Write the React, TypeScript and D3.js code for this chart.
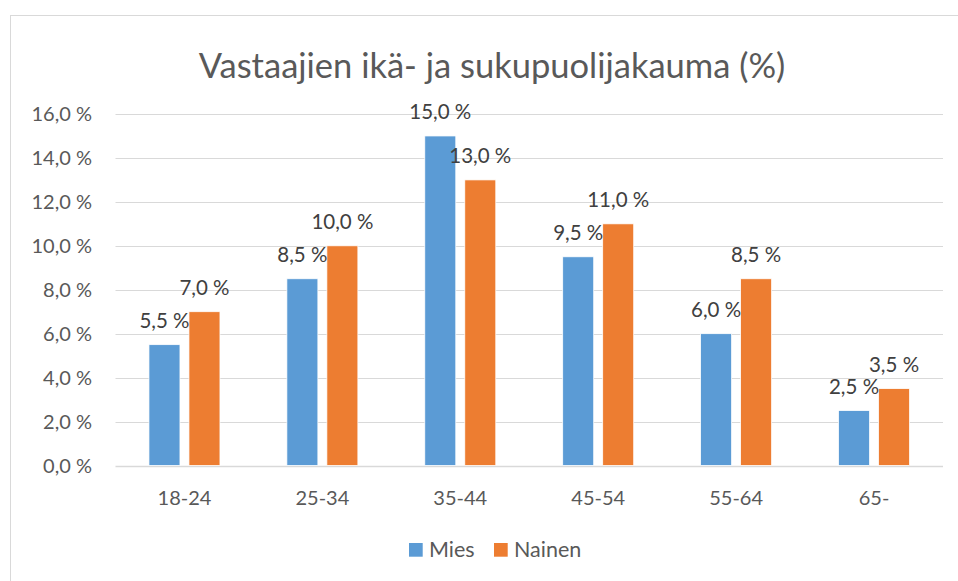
import React, { useEffect, useRef } from "react";
import * as d3 from "d3";

const categories = ["18-24", "25-34", "35-44", "45-54", "55-64", "65-"];
const seriesNames = ["Mies", "Nainen"];
const miesValues = [5.5, 8.5, 15.0, 9.5, 6.0, 2.5];
const nainenValues = [7.0, 10.0, 13.0, 11.0, 8.5, 3.5];
const yTickValues = [0, 2, 4, 6, 8, 10, 12, 14, 16];
const colors = ["#5B9BD5", "#ED7D31"];

const title = "Vastaajien ikä- ja sukupuolijakauma (%)";
const fmt = (v: number) => v.toFixed(1).replace(".", ",") + " %";

const App = () => {
  const svgRef = useRef<SVGSVGElement>(null);

  useEffect(() => {
    document.body.style.margin = "0";
    const svg = d3.select(svgRef.current);
    svg.selectAll("*").remove();

    const font = "Lato, 'Open Sans', sans-serif";
    const textColor = "#595959";
    const gridColor = "#D9D9D9";

    // chart frame
    svg
      .append("rect")
      .attr("x", 10.5)
      .attr("y", 15.5)
      .attr("width", 970)
      .attr("height", 600)
      .attr("fill", "#fff")
      .attr("stroke", gridColor);

    const x0 = d3.scaleBand().domain(categories).range([115.5, 943]);
    const x1 = d3
      .scaleBand()
      .domain(seriesNames)
      .range([-40, 40])
      .paddingInner(0.225)
      .paddingOuter(0.1125);
    const y = d3.scaleLinear().domain([0, 16]).range([465.5, 114]);
    const color = d3.scaleOrdinal<string>().domain(seriesNames).range(colors);

    // title
    svg
      .append("text")
      .attr("x", 492)
      .attr("y", 78)
      .attr("text-anchor", "middle")
      .style("font-family", font)
      .style("font-size", "34.5px")
      .attr("fill", textColor)
      .text(title);

    // grid
    svg
      .append("g")
      .selectAll("line")
      .data(yTickValues)
      .join("line")
      .attr("x1", 115.5)
      .attr("x2", 943)
      .attr("y1", (d) => Math.round(y(d)) + 0.5)
      .attr("y2", (d) => Math.round(y(d)) + 0.5)
      .attr("stroke", gridColor)
      .attr("stroke-width", (d) => (d === 0 ? 1.5 : 1.2));

    // y tick labels
    svg
      .append("g")
      .selectAll("text")
      .data(yTickValues)
      .join("text")
      .attr("x", 92)
      .attr("y", (d) => y(d))
      .attr("dy", "0.36em")
      .attr("text-anchor", "end")
      .style("font-family", font)
      .style("font-size", "20px")
      .attr("fill", textColor)
      .text((d) => fmt(d));

    const rows = categories.map((c, i) => ({
      category: c,
      values: [
        { key: seriesNames[0], value: miesValues[i] },
        { key: seriesNames[1], value: nainenValues[i] },
      ],
    }));

    const groups = svg
      .append("g")
      .selectAll("g")
      .data(rows)
      .join("g")
      .attr(
        "transform",
        (d) => `translate(${x0(d.category)! + x0.bandwidth() / 2},0)`
      );

    groups
      .selectAll("rect")
      .data((d) => d.values)
      .join("rect")
      .attr("x", (d) => x1(d.key)!)
      .attr("y", (d) => y(d.value))
      .attr("width", x1.bandwidth())
      .attr("height", (d) => y(0) - y(d.value))
      .attr("fill", (d) => color(d.key))
      .attr("stroke", "#fff")
      .attr("stroke-width", 0.75);

    groups
      .selectAll("text")
      .data((d) => d.values)
      .join("text")
      .attr("x", (d) => x1(d.key)! + x1.bandwidth() / 2)
      .attr("y", (d) => y(d.value) - 17)
      .attr("text-anchor", "middle")
      .style("font-family", font)
      .style("font-size", "20.5px")
      .attr("fill", "#404040")
      .text((d) => fmt(d.value));

    // x labels
    svg
      .append("g")
      .selectAll("text")
      .data(categories)
      .join("text")
      .attr("x", (d) => x0(d)! + x0.bandwidth() / 2)
      .attr("y", 505)
      .attr("text-anchor", "middle")
      .style("font-family", font)
      .style("font-size", "20px")
      .attr("fill", textColor)
      .text((d) => d);

    // legend
    const legendX = [409, 494];
    const legend = svg
      .append("g")
      .selectAll("g")
      .data(seriesNames)
      .join("g")
      .attr("transform", (d, i) => `translate(${legendX[i]},543)`);
    legend
      .append("rect")
      .attr("width", 13.7)
      .attr("height", 13.7)
      .attr("fill", (d) => color(d));
    legend
      .append("text")
      .attr("x", 20)
      .attr("y", 14)
      .style("font-family", font)
      .style("font-size", "21.5px")
      .attr("fill", textColor)
      .text((d) => d);
  }, []);

  return <svg ref={svgRef} width={958} height={581} style={{ display: "block" }} />;
};

export default App;
